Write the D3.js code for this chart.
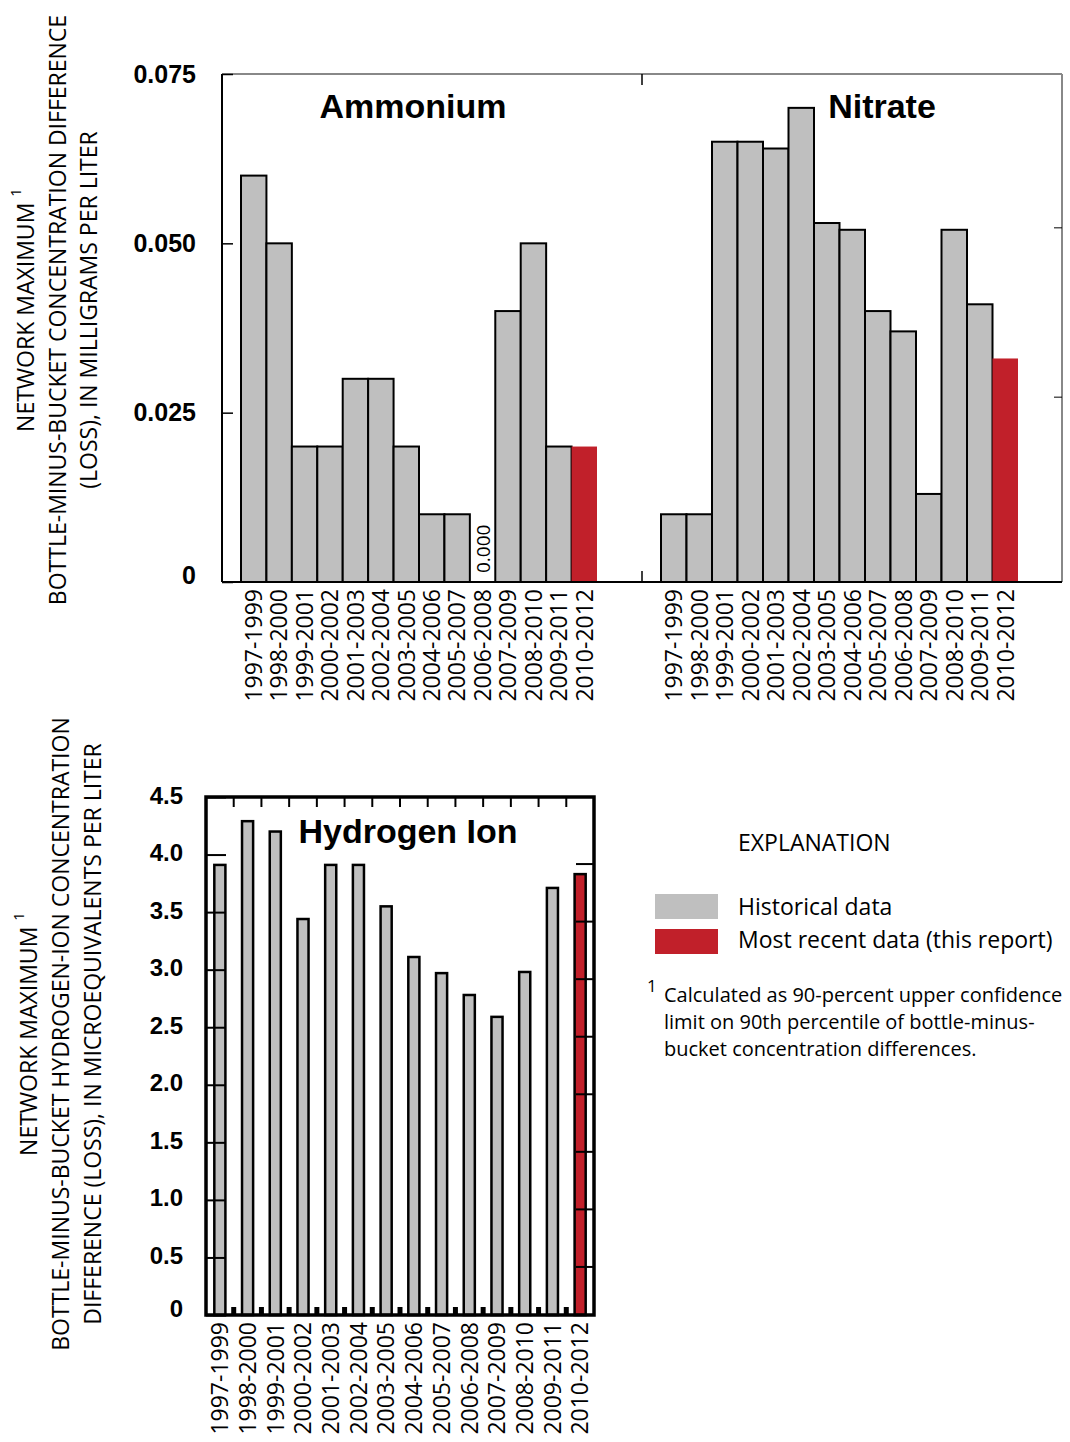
<!DOCTYPE html>
<html>
<head>
<meta charset="utf-8">
<script src="https://cdn.jsdelivr.net/npm/d3@7"></script>
<style>
body{margin:0;background:#fff;}
</style>
</head>
<body>
<div id="chart"></div>
<script>
//Data
var periods=["1997-1999","1998-2000","1999-2001","2000-2002","2001-2003","2002-2004","2003-2005",
             "2004-2006","2005-2007","2006-2008","2007-2009","2008-2010","2009-2011","2010-2012"];
var ammonium=[0.060,0.050,0.020,0.020,0.030,0.030,0.020,0.010,0.010,0.000,0.040,0.050,0.020,0.020];
var nitrate=[0.010,0.010,0.065,0.065,0.064,0.070,0.053,0.052,0.040,0.037,0.013,0.052,0.041,0.033];
var hydrogen=[3.91,4.29,4.20,3.44,3.91,3.91,3.55,3.11,2.97,2.78,2.59,2.98,3.71,3.83];
var topTicks=[0,0.025,0.050,0.075];
var topTickLabels=["0","0.025","0.050","0.075"];
var hTicks=[0,0.5,1.0,1.5,2.0,2.5,3.0,3.5,4.0,4.5];
var hTickLabels=["0","0.5","1.0","1.5","2.0","2.5","3.0","3.5","4.0","4.5"];
var legendItems=["Historical data","Most recent data (this report)"];
var footnoteLines=["Calculated as 90-percent upper confidence",
                   "limit on 90th percentile of bottle-minus-",
                   "bucket concentration differences."];
var topTitleLines=["NETWORK MAXIMUM","BOTTLE-MINUS-BUCKET CONCENTRATION DIFFERENCE","(LOSS), IN MILLIGRAMS PER LITER"];
var hTitleLines=["NETWORK MAXIMUM","BOTTLE-MINUS-BUCKET HYDROGEN-ION CONCENTRATION","DIFFERENCE (LOSS), IN MICROEQUIVALENTS PER LITER"];

var w=1070, h=1442;
var gray="#bfbfbf", red="#c1202a";
var numFont="'Liberation Sans', Arial, sans-serif";
var txtFont="'Open Sans', 'Noto Sans', sans-serif";

var svg=d3.select("#chart")
          .append("svg")
          .attr("width",w)
          .attr("height",h);

function colorOf(i) {return i==periods.length-1 ? red : gray;}

//---------------- Top chart (ammonium + nitrate) ----------------
var tb={left:222, right:1062, top:74, bottom:582, split:642};
var topY=d3.scaleLinear().domain([0,0.075]).range([tb.bottom,tb.top]);
var amX=d3.scaleBand().domain(periods).range([tb.left+19,tb.split-45]);
var niX=d3.scaleBand().domain(periods).range([tb.split+19,tb.right-44]);

function drawTopBars(xs,vals,cls) {
    var g=svg.append("g").attr("class",cls);
    g.selectAll("rect")
     .data(vals)
     .enter()
     .append("rect")
     .attr("x",function(d,i) {return xs(periods[i]);})
     .attr("y",function(d) {return topY(d);})
     .attr("width",xs.bandwidth())
     .attr("height",function(d) {return topY(0)-topY(d);})
     .style("fill",function(d,i) {return colorOf(i);})
     .style("stroke",function(d,i) {return i==periods.length-1 ? "none" : "#000";})
     .style("stroke-width",2)
     .style("display",function(d) {return d>0 ? null : "none";});
    //zero values get a small label
    g.selectAll("text.zero")
     .data(vals.map(function(d,i) {return {v:d,p:periods[i]};}).filter(function(d) {return d.v===0;}))
     .enter()
     .append("text")
     .attr("class","zero")
     .attr("transform",function(d) {return "translate("+(xs(d.p)+xs.bandwidth()/2)+","+(topY(0)-9)+")rotate(-90)";})
     .attr("text-anchor","start")
     .attr("dominant-baseline","central")
     .style("font-family",txtFont)
     .style("font-size","19px")
     .text(function(d) {return d3.format(".3f")(d.v);});
    //category labels
    var ax=g.append("g")
            .attr("transform","translate(0,"+tb.bottom+")")
            .call(d3.axisBottom(xs).tickSize(0).tickPadding(0));
    ax.select(".domain").remove();
    ax.selectAll("text")
      .attr("transform","rotate(-90)")
      .attr("text-anchor","end")
      .attr("x",-7)
      .attr("y",0)
      .attr("dy","0.36em")
      .style("font-family",txtFont)
      .style("font-size","23px");
}
drawTopBars(amX,ammonium,"ammonium");
drawTopBars(niX,nitrate,"nitrate");

//Frame
svg.append("line").attr("x1",tb.left).attr("x2",tb.right).attr("y1",tb.top).attr("y2",tb.top)
   .style("stroke","#888").style("stroke-width",2);
svg.append("line").attr("x1",tb.right).attr("x2",tb.right).attr("y1",tb.top).attr("y2",tb.bottom)
   .style("stroke","#888").style("stroke-width",2);
svg.append("line").attr("x1",tb.left).attr("x2",tb.right).attr("y1",tb.bottom).attr("y2",tb.bottom)
   .style("stroke","#000").style("stroke-width",2);
svg.append("line").attr("x1",tb.left).attr("x2",tb.left).attr("y1",tb.top).attr("y2",tb.bottom)
   .style("stroke","#000").style("stroke-width",2);
//divider ticks
svg.append("line").attr("x1",tb.split).attr("x2",tb.split).attr("y1",tb.top).attr("y2",tb.top+11)
   .style("stroke","#000").style("stroke-width",1.5);
svg.append("line").attr("x1",tb.split).attr("x2",tb.split).attr("y1",tb.bottom).attr("y2",tb.bottom-11)
   .style("stroke","#000").style("stroke-width",1.5);

//Left axis
var topAxis=svg.append("g")
               .attr("transform","translate("+tb.left+",0)")
               .call(d3.axisLeft(topY).tickValues(topTicks).tickSize(-11).tickPadding(26)
                       .tickFormat(function(d,i) {return topTickLabels[i];}));
topAxis.select(".domain").remove();
topAxis.selectAll("line").style("stroke-width",1.5);
topAxis.selectAll("text")
       .attr("dy",function(d) {return d===0 ? "0.05em" : "0.32em";})
       .style("font-family",numFont)
       .style("font-weight","bold")
       .style("font-size","25px")
       .style("fill","#000");

//Right ticks
var topRight=svg.append("g")
                .attr("transform","translate("+tb.right+",-16)")
                .call(d3.axisRight(topY).tickValues([0.025,0.050]).tickSize(-8).tickFormat(""));
topRight.select(".domain").remove();

//Panel titles
svg.append("text").attr("x",413).attr("y",118).attr("text-anchor","middle")
   .style("font-family",numFont).style("font-weight","bold").style("font-size","34px").text("Ammonium");
svg.append("text").attr("x",882).attr("y",118).attr("text-anchor","middle")
   .style("font-family",numFont).style("font-weight","bold").style("font-size","34px").text("Nitrate");

//Y axis title
function yTitle(lines,xs,cy) {
    lines.forEach(function(t,i) {
        var tx=svg.append("text")
                  .attr("transform","translate("+xs[i]+","+cy+")rotate(-90)")
                  .attr("text-anchor","middle")
                  .attr("dominant-baseline","central")
                  .style("font-family",txtFont)
                  .style("font-size","23px")
                  .text(t);
        if(i==0) {
            tx.append("tspan").attr("dx",6).attr("dy",-10).style("font-size","15px").text("1");
        }
    });
}
yTitle(topTitleLines,[25,57,88],310);

//---------------- Hydrogen ion chart ----------------
var hb={left:206, right:594, top:797, bottom:1315};
var hY=d3.scaleLinear().domain([0,4.5]).range([hb.bottom,hb.top]);
var hX=d3.scaleBand().domain(periods).range([hb.left,hb.right]).paddingInner(0.6).paddingOuter(0.3);

svg.append("g")
   .attr("class","hydrogen")
   .selectAll("rect")
   .data(hydrogen)
   .enter()
   .append("rect")
   .attr("x",function(d,i) {return hX(periods[i]);})
   .attr("y",function(d) {return hY(d);})
   .attr("width",hX.bandwidth())
   .attr("height",function(d) {return hY(0)-hY(d);})
   .style("fill",function(d,i) {return colorOf(i);})
   .style("stroke","#000")
   .style("stroke-width",2.5);

//band boundary ticks on top and bottom
var gap=(hX.step()-hX.bandwidth())/2;
var bounds=periods.slice(1).map(function(p) {return hX(p)-gap;});
svg.selectAll("line.htop")
   .data(bounds)
   .enter()
   .append("line")
   .attr("x1",function(d) {return d;}).attr("x2",function(d) {return d;})
   .attr("y1",hb.top).attr("y2",hb.top+10)
   .style("stroke","#000").style("stroke-width",2);
svg.selectAll("line.hbot")
   .data(bounds)
   .enter()
   .append("line")
   .attr("x1",function(d) {return d;}).attr("x2",function(d) {return d;})
   .attr("y1",hb.bottom).attr("y2",hb.bottom-8)
   .style("stroke","#000").style("stroke-width",5);

//left and right ticks
var hLeft=svg.append("g")
             .attr("transform","translate("+hb.left+",0)")
             .call(d3.axisLeft(hY).tickValues(hTicks).tickSize(-20).tickPadding(23)
                     .tickFormat(function(d,i) {return hTickLabels[i];}));
hLeft.select(".domain").remove();
hLeft.selectAll("line").style("stroke-width",2);
hLeft.selectAll("text")
     .attr("dy",function(d) {return d===0 ? "0.05em" : "0.25em";})
     .style("font-family",numFont)
     .style("font-weight","bold")
     .style("font-size","24px")
     .style("fill","#000");
var hRight=svg.append("g")
              .attr("transform","translate("+hb.right+",9)")
              .call(d3.axisRight(hY).tickValues(hTicks.slice(1,9)).tickSize(-18).tickFormat(""));
hRight.select(".domain").remove();
hRight.selectAll("line").style("stroke-width",2);

//frame
svg.append("rect")
   .attr("x",hb.left).attr("y",hb.top)
   .attr("width",hb.right-hb.left).attr("height",hb.bottom-hb.top)
   .style("fill","none").style("stroke","#000").style("stroke-width",3.5);

//category labels
var hAx=svg.append("g")
           .attr("transform","translate(0,"+hb.bottom+")")
           .call(d3.axisBottom(hX).tickSize(0).tickPadding(0));
hAx.select(".domain").remove();
hAx.selectAll("text")
   .attr("transform","rotate(-90)")
   .attr("text-anchor","end")
   .attr("x",-7)
   .attr("y",0)
   .attr("dy","0.36em")
   .style("font-family",txtFont)
   .style("font-size","23px");

svg.append("text").attr("x",408).attr("y",843).attr("text-anchor","middle")
   .style("font-family",numFont).style("font-weight","bold").style("font-size","34px").text("Hydrogen Ion");

yTitle(hTitleLines,[28,60,92],1034);

//---------------- Explanation ----------------
svg.append("text").attr("x",738).attr("y",842).attr("dominant-baseline","central")
   .style("font-family",txtFont).style("font-size","23px").text("EXPLANATION");
var leg=svg.append("g").attr("class","legend");
leg.selectAll("rect")
   .data(legendItems)
   .enter()
   .append("rect")
   .attr("x",655)
   .attr("y",function(d,i) {return 894+i*35;})
   .attr("width",63)
   .attr("height",25)
   .style("fill",function(d,i) {return i==0 ? gray : red;});
leg.selectAll("text")
   .data(legendItems)
   .enter()
   .append("text")
   .attr("x",738)
   .attr("y",function(d,i) {return 906+i*33;})
   .attr("dominant-baseline","central")
   .style("font-family",txtFont)
   .style("font-size","23px")
   .text(function(d) {return d;});

svg.append("text").attr("x",647).attr("y",985).attr("dominant-baseline","central")
   .style("font-family",txtFont).style("font-size","17px").text("1");
svg.selectAll("text.foot")
   .data(footnoteLines)
   .enter()
   .append("text")
   .attr("class","foot")
   .attr("x",664)
   .attr("y",function(d,i) {return 994+i*27;})
   .attr("dominant-baseline","central")
   .style("font-family",txtFont)
   .style("font-size","20px")
   .text(function(d) {return d;});
</script>
</body>
</html>
